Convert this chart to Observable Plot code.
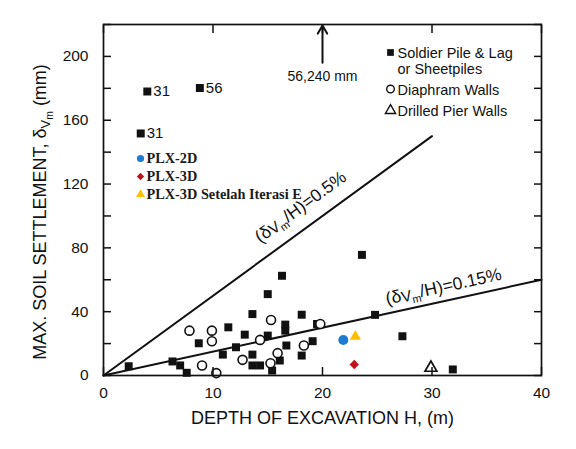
<!DOCTYPE html>
<html><head><meta charset="utf-8">
<script src="https://cdn.jsdelivr.net/npm/d3@7"></script>
<script src="https://cdn.jsdelivr.net/npm/@observablehq/plot@0.6"></script>
<style>
body{margin:0;background:#fff}
#chart{position:relative;width:576px;height:449px}
</style>
</head><body><div id="chart"></div>
<script>
// ---- data ----
const soldierDepth  = [2.3, 6.3, 7.0, 7.6, 8.7, 10.9, 11.4, 12.1, 12.9, 13.6, 13.6, 13.6, 14.3, 15.0, 15.0, 15.4, 16.1, 16.3, 16.6, 16.6, 16.7, 18.1, 18.1, 19.1, 19.5, 23.6, 24.8, 27.3, 31.9, 3.4, 4.0, 8.8];
const soldierSettle = [5.8, 8.8, 6.3, 1.7, 20.2, 13.1, 30.2, 17.7, 25.6, 38.5, 13.1, 6.3, 6.3, 51, 25, 3.1, 9.4, 62.5, 31.9, 28.1, 18.8, 38.1, 12.5, 21.5, 32.3, 75.6, 38, 24.6, 3.8, 151.7, 178, 180.2];
const soldierTags   = ["","","","","","","","","","","","","","","","","","","","","","","","","","","","","","31","31","56"];
const diaphragmDepth  = [7.85, 9.0, 9.9, 9.9, 10.3, 12.7, 14.3, 15.3, 15.25, 15.9, 18.3, 19.8];
const diaphragmSettle = [28.1, 6.3, 28.1, 21.5, 1.5, 9.8, 22.3, 34.8, 7.7, 14.0, 18.8, 32.3];
const drilledDepth  = [29.9];
const drilledSettle = [4.8];
const plxNames  = ["PLX-2D", "PLX-3D", "PLX-3D Setelah Iterasi E"];
const plxDepth  = [21.9, 22.9, 23.0];
const plxSettle = [22.3, 6.9, 24.4];
const plxColors = ["#1f7bd2", "#c0121c", "#ffc000"];
const plxSymbols = ["circle", "diamond2", "triangle"];
// guide lines  delta/H (percent), drawn to depth
const ratioPct   = [0.5, 0.15];
const ratioEnd   = [30, 40];
const ratioLabelDepth = [18.0, 31.05];
// off-chart point annotation
const offDepth = 20, offLabel = "56,240 mm", offTextAt = 187.5, offArrowFrom = 196;
const xTicks = [0, 10, 20, 30, 40];
const yTicks = [0, 20, 40, 60, 80, 100, 120, 140, 160, 180, 200, 220];
const legendRight = [
  {lines: ["Soldier Pile & Lag", "or Sheetpiles"], symbol: "square", filled: true},
  {lines: ["Diaphram Walls"], symbol: "circle", filled: false},
  {lines: ["Drilled Pier Walls"], symbol: "triangle", filled: false}
];

const soldier = soldierDepth.map((d, i) => ({depth: d, settle: soldierSettle[i], tag: soldierTags[i]}));
const diaphragm = diaphragmDepth.map((d, i) => ({depth: d, settle: diaphragmSettle[i]}));
const drilled = drilledDepth.map((d, i) => ({depth: d, settle: drilledSettle[i]}));
const plx = plxNames.map((n, i) => ({name: n, depth: plxDepth[i], settle: plxSettle[i], color: plxColors[i], symbol: plxSymbols[i]}));

const ink = "#111";
const font = "Liberation Sans, Arial, Helvetica, sans-serif";

const marks = [];
// guide lines
ratioPct.forEach((p, i) => {
  const pts = [0, ratioEnd[i]].map(h => ({depth: h, settle: h * 1000 * p / 100}));
  marks.push(Plot.line(pts, {x: "depth", y: "settle", stroke: ink, strokeWidth: 2}));
});
// line labels
const rot = [-36.2, -12.4], lblDy = [-25, -14.5];
ratioPct.forEach((p, i) => {
  const h = ratioLabelDepth[i];
  marks.push(Plot.text([{depth: h, settle: h * 1000 * p / 100, t: `(δVm/H)=${p}%`}], {
    x: "depth", y: "settle", text: "t", rotate: rot[i], dy: lblDy[i],
    fontSize: 17.5, fill: ink, fontFamily: font
  }));
});
// data points
marks.push(Plot.dot(soldier, {x: "depth", y: "settle", symbol: "square", r: 4.5, fill: ink, stroke: "none"}));
marks.push(Plot.text(soldier.filter(d => d.tag), {x: "depth", y: "settle", text: "tag", dx: 6, textAnchor: "start", fontSize: 15, fill: ink, fontFamily: font}));
marks.push(Plot.dot(diaphragm, {x: "depth", y: "settle", symbol: "circle", r: 4.5, fill: "white", stroke: ink, strokeWidth: 1.6}));
marks.push(Plot.dot(drilled, {x: "depth", y: "settle", symbol: "triangle", r: 4.4, fill: "white", stroke: ink, strokeWidth: 1.7}));
plx.forEach(d => {
  marks.push(Plot.dot([d], {x: "depth", y: "settle", symbol: d.symbol, r: d.symbol === "circle" ? 5 : 4.2, fill: d.color, stroke: "none"}));
});
// off-chart arrow
marks.push(Plot.arrow([{x: offDepth, y1: offArrowFrom, y2: 220}], {x: "x", y1: "y1", y2: "y2", stroke: ink, strokeWidth: 2, headLength: 7, insetEnd: 1}));
marks.push(Plot.text([{x: offDepth, y: offTextAt, t: offLabel}], {x: "x", y: "y", text: "t", fontSize: 14, fill: ink, fontFamily: font}));
// right legend (anchored to frame top-left)
let rowY = 28;
legendRight.forEach(item => {
  marks.push(Plot.dot([0], {frameAnchor: "top-left", dx: 287, dy: rowY, symbol: item.symbol, r: 3.8,
    fill: item.filled ? ink : "white", stroke: item.filled ? "none" : ink, strokeWidth: 1.4}));
  marks.push(Plot.text([item.lines.join("\n")], {frameAnchor: "top-left", dx: 294, dy: rowY - 5.5, lineAnchor: "top", textAnchor: "start",
    fontSize: 14.5, lineHeight: 1.1, fill: ink, fontFamily: font}));
  rowY += 21.5 + 15 * (item.lines.length - 1);
});
// PLX legend
plx.forEach((d, i) => {
  const y = 134 + i * 18;
  marks.push(Plot.dot([0], {frameAnchor: "top-left", dx: 37, dy: y, symbol: d.symbol, r: d.symbol === "circle" ? 3.6 : 3.3, fill: d.color}));
  marks.push(Plot.text([d.name], {frameAnchor: "top-left", dx: 43, dy: y, textAnchor: "start", lineAnchor: "middle",
    fontSize: 14.3, fontWeight: "bold", fill: "#1a1a1a", fontFamily: "Liberation Serif, Times New Roman, serif"}));
});
// frame and axes
marks.push(Plot.frame({stroke: ink, strokeWidth: 1.7}));
marks.push(Plot.axisX({anchor: "bottom", ticks: xTicks, tickSize: -8, tickPadding: 19, fontSize: 15.5, label: null, strokeWidth: 1.5, color: ink}));
marks.push(Plot.axisX({anchor: "top", ticks: xTicks, tickSize: -8, tickFormat: () => "", label: null, strokeWidth: 1.5, color: ink}));
marks.push(Plot.axisY({anchor: "left", ticks: yTicks, tickSize: -8, tickPadding: 23, fontSize: 15.5, label: null, strokeWidth: 1.5, color: ink,
  tickFormat: d => (d % 40 === 0 && d <= 200) ? String(d) : ""}));
marks.push(Plot.axisY({anchor: "right", ticks: yTicks, tickSize: -8, tickFormat: () => "", label: null, strokeWidth: 1.5, color: ink}));
// axis titles
marks.push(Plot.text(["DEPTH OF EXCAVATION H, (m)"], {frameAnchor: "bottom", dy: 43, lineAnchor: "middle", textAnchor: "middle", fontSize: 18, fill: ink, fontFamily: font}));
marks.push(Plot.text(["MAX. SOIL SETTLEMENT, δVm (mm)"], {frameAnchor: "left", dx: -63, dy: 12, rotate: -90, lineAnchor: "middle", textAnchor: "middle", fontSize: 18, fill: ink, fontFamily: font}));

const chart = Plot.plot({
  width: 576, height: 449,
  marginLeft: 103, marginRight: 35, marginTop: 24, marginBottom: 74,
  x: {domain: [0, 40]},
  y: {domain: [0, 220]},
  style: {fontFamily: font, color: ink, background: "#fff", overflow: "visible"},
  marks
});

// subscripts for δVm
const ns = "http://www.w3.org/2000/svg";
chart.querySelectorAll("text").forEach(t => {
  const s = t.textContent;
  if (!s.includes("δVm") || t.querySelector("tspan")) return;
  const isTitle = s.startsWith("MAX");
  const [a, b] = s.split("δVm");
  t.textContent = "";
  const add = (txt, attrs) => {
    const e = document.createElementNS(ns, "tspan");
    e.textContent = txt;
    for (const k in attrs) e.setAttribute(k, attrs[k]);
    t.appendChild(e);
  };
  if (isTitle) {
    add(a + "δ", {});
    add("V", {dy: "4", "font-size": "72%"});
    add("m", {dy: "3", "font-size": "58%"});
    add(b, {dy: "-7"});
  } else {
    add(a + "δ", {});
    add("V", {dy: "1", "font-size": "88%"});
    add("m", {dy: "3", "font-size": "62%"});
    add(b, {dy: "-4"});
  }
});

document.getElementById("chart").appendChild(chart);
</script>
</body></html>
